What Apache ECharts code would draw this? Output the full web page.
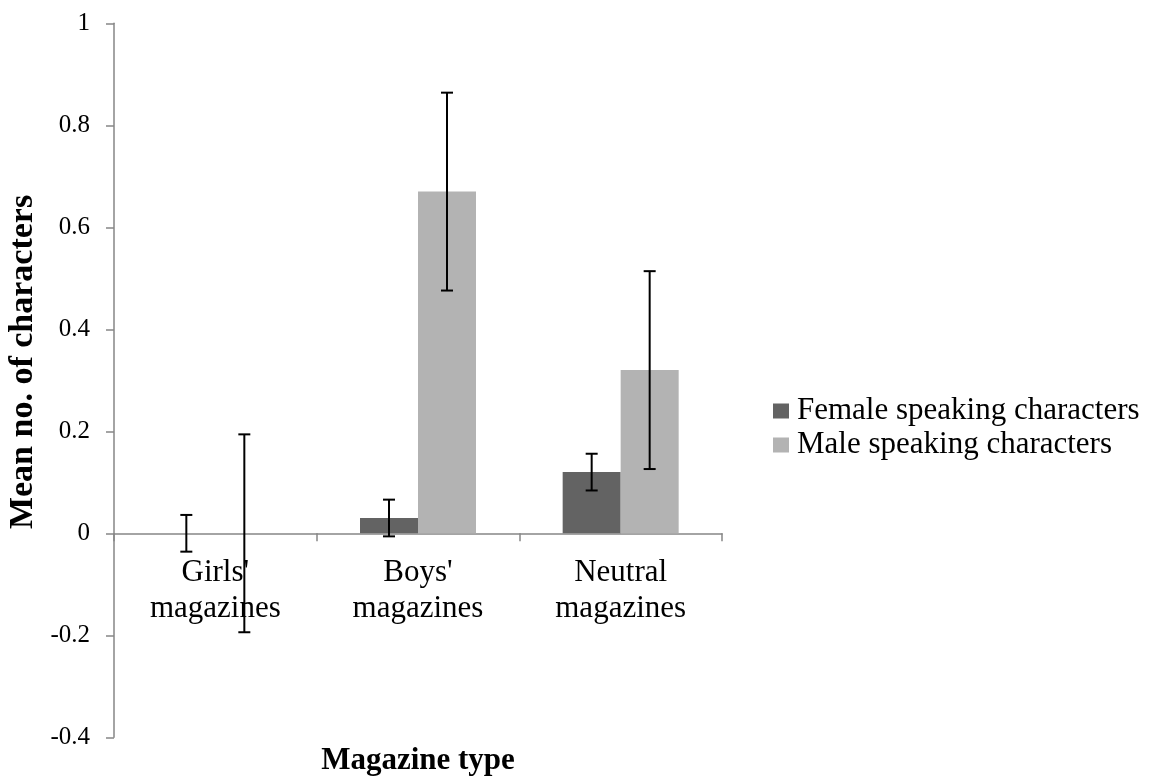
<!DOCTYPE html>
<html>
<head>
<meta charset="utf-8">
<script src="https://cdn.jsdelivr.net/npm/echarts@6/dist/echarts.min.js"></script>
<style>
html,body{margin:0;padding:0;background:#fff;}
#chart{width:1160px;height:779px;}
</style>
</head>
<body>
<div id="chart"></div>
<script>
// ---- data ----
const categories = ["Girls'\nmagazines", "Boys'\nmagazines", "Neutral\nmagazines"];
const seriesNames = ["Female speaking characters", "Male speaking characters"];
const femaleMeans = [0, 0.03, 0.12];
const maleMeans = [0, 0.67, 0.32];
const femaleErr = [0.036, 0.036, 0.036];
const maleErr = [0.194, 0.194, 0.194];
const yMin = -0.4, yMax = 1, yStep = 0.2;
const xTitle = "Magazine type";
const yTitle = "Mean no. of characters";

// ---- styles ----
const FONT = "'Liberation Serif', 'Times New Roman', serif";
const AXIS_COLOR = "#868686";
const DARK = "#636363";
const LIGHT = "#b3b3b3";
const BAR_W = 58;

const chart = echarts.init(document.getElementById('chart'), null, {renderer: 'canvas'});

function errSeries(means, errs, offset) {
  return {
    type: 'custom',
    z: 10,
    silent: true,
    data: means.map((m, i) => [i, m, errs[i]]),
    renderItem: function (params, api) {
      const xi = api.value(0), v = api.value(1), e = api.value(2);
      const top = api.coord([xi, v + e]);
      const bot = api.coord([xi, v - e]);
      const x = top[0] + offset;
      const cap = 6;
      const style = {stroke: '#000', lineWidth: 2, fill: null};
      return {
        type: 'group',
        children: [
          {type: 'line', shape: {x1: x, y1: top[1], x2: x, y2: bot[1]}, style: style},
          {type: 'line', shape: {x1: x - cap, y1: top[1], x2: x + cap, y2: top[1]}, style: style},
          {type: 'line', shape: {x1: x - cap, y1: bot[1], x2: x + cap, y2: bot[1]}, style: style}
        ]
      };
    }
  };
}

const option = {
  backgroundColor: '#fff',
  animation: false,
  grid: {left: 114, right: 438, top: 23.3, bottom: 41.7, containLabel: false, outerBoundsMode: 'none'},
  legend: {
    orient: 'vertical',
    left: 768,
    top: 389,
    itemWidth: 16,
    itemHeight: 15,
    itemGap: 0,
    icon: 'rect',
    data: seriesNames,
    textStyle: {fontFamily: FONT, fontSize: 31, color: '#000', lineHeight: 34, padding: [0, 0, 0, 3]}
  },
  xAxis: {
    type: 'category',
    data: categories,
    axisLine: {onZero: true, lineStyle: {color: AXIS_COLOR, width: 1.5}},
    axisTick: {show: true, length: 8, lineStyle: {color: AXIS_COLOR, width: 1.5}},
    axisLabel: {fontFamily: FONT, fontSize: 31, lineHeight: 36, color: '#000', margin: -182, interval: 0},
    splitLine: {show: false}
  },
  yAxis: {
    type: 'value',
    min: yMin, max: yMax, interval: yStep,
    axisLine: {show: true, lineStyle: {color: AXIS_COLOR, width: 1.5}},
    axisTick: {show: true, length: 8, lineStyle: {color: AXIS_COLOR, width: 1.5}},
    axisLabel: {fontFamily: FONT, fontSize: 25, color: '#000', margin: 24},
    splitLine: {show: false}
  },
  graphic: [
    {type: 'text', x: 418, y: 761,
     style: {text: xTitle, font: 'bold 31px ' + FONT, fill: '#000', align: 'center', verticalAlign: 'middle'}},
    {type: 'text', x: 23, y: 362, rotation: Math.PI / 2,
     style: {text: yTitle, font: 'bold 34px ' + FONT, fill: '#000', align: 'center', verticalAlign: 'middle'}}
  ],
  series: [
    {name: seriesNames[0], type: 'bar', data: femaleMeans, barWidth: BAR_W, barGap: '0%',
     itemStyle: {color: DARK}},
    {name: seriesNames[1], type: 'bar', data: maleMeans, barWidth: BAR_W, barGap: '0%',
     itemStyle: {color: LIGHT}},
    errSeries(femaleMeans, femaleErr, -BAR_W / 2),
    errSeries(maleMeans, maleErr, BAR_W / 2)
  ]
};
chart.setOption(option);
</script>
</body>
</html>
